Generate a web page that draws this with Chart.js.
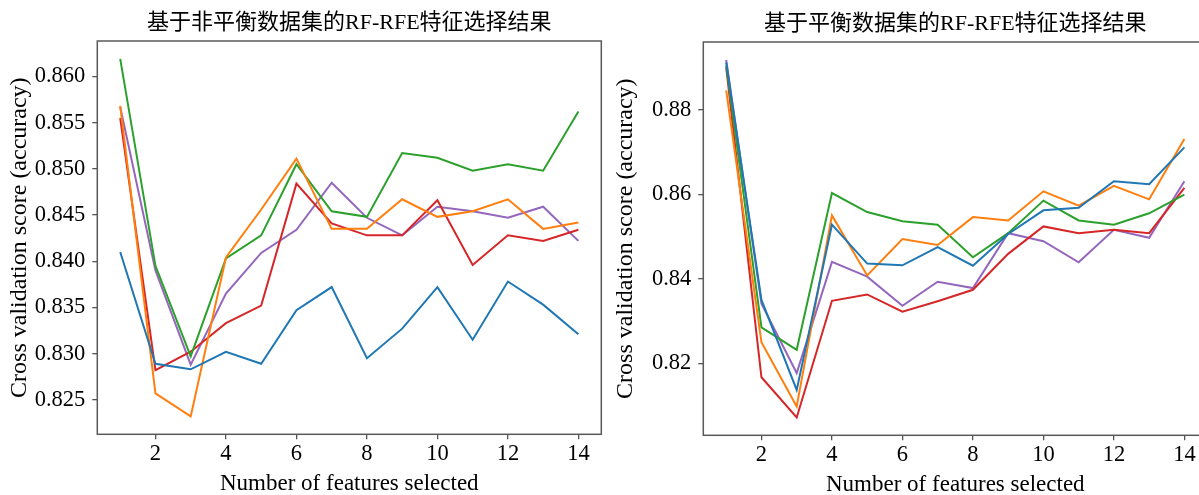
<!DOCTYPE html>
<html>
<head>
<meta charset="utf-8">
<script src="https://cdn.jsdelivr.net/npm/chart.js@4"></script>
<style>
  html, body { margin: 0; padding: 0; background: #fff; }
  body { width: 1199px; height: 495px; overflow: hidden; position: relative; }
  .panel { position: absolute; width: 620px; height: 495px; }
</style>
</head>
<body>
<div class="panel" style="left:0;top:0"><canvas id="imbalanced" width="620" height="495"></canvas></div>
<div class="panel" style="left:606px;top:1px"><canvas id="balanced" width="620" height="495"></canvas></div>
<script>
// Number of features kept by RFE at each step
const featureCounts = [1, 2, 3, 4, 5, 6, 7, 8, 9, 10, 11, 12, 13, 14];
const xTicks = [2, 4, 6, 8, 10, 12, 14];

// Cross-validation accuracy, imbalanced data set (one curve per CV run)
const imbBlue   = [0.8410, 0.8289, 0.8283, 0.8302, 0.8289, 0.8347, 0.8372, 0.8295, 0.8327, 0.8372, 0.8315, 0.8378, 0.8353, 0.8321];
const imbOrange = [0.8568, 0.8257, 0.8232, 0.8404, 0.8456, 0.8511, 0.8435, 0.8435, 0.8467, 0.8448, 0.8454, 0.8467, 0.8435, 0.8442];
const imbGreen  = [0.8619, 0.8395, 0.8297, 0.8403, 0.8428, 0.8505, 0.8454, 0.8448, 0.8517, 0.8512, 0.8498, 0.8505, 0.8498, 0.8562];
const imbRed    = [0.8555, 0.8282, 0.8302, 0.8333, 0.8352, 0.8484, 0.8441, 0.8428, 0.8428, 0.8466, 0.8396, 0.8428, 0.8422, 0.8434];
const imbPurple = [0.8567, 0.8390, 0.8288, 0.8365, 0.8409, 0.8434, 0.8485, 0.8447, 0.8428, 0.8459, 0.8454, 0.8447, 0.8459, 0.8422];

// Cross-validation accuracy, balanced data set
const balBlue   = [0.8912, 0.8350, 0.8137, 0.8528, 0.8436, 0.8432, 0.8475, 0.8431, 0.8506, 0.8562, 0.8568, 0.8631, 0.8624, 0.8711];
const balOrange = [0.8846, 0.8250, 0.8098, 0.8550, 0.8408, 0.8494, 0.8480, 0.8546, 0.8538, 0.8607, 0.8573, 0.8620, 0.8588, 0.8731];
const balGreen  = [0.8905, 0.8285, 0.8232, 0.8603, 0.8558, 0.8536, 0.8528, 0.8451, 0.8508, 0.8585, 0.8538, 0.8528, 0.8555, 0.8599];
const balRed    = [0.8900, 0.8167, 0.8072, 0.8348, 0.8363, 0.8322, 0.8347, 0.8374, 0.8459, 0.8524, 0.8508, 0.8516, 0.8508, 0.8615];
const balPurple = [0.8918, 0.8341, 0.8177, 0.8440, 0.8405, 0.8336, 0.8393, 0.8378, 0.8508, 0.8489, 0.8439, 0.8516, 0.8497, 0.8631];

// Y-axis ticks and their labels
const imbYTicks  = [0.825, 0.830, 0.835, 0.840, 0.845, 0.850, 0.855, 0.860];
const imbYLabels = ['0.825', '0.830', '0.835', '0.840', '0.845', '0.850', '0.855', '0.860'];
const balYTicks  = [0.82, 0.84, 0.86, 0.88];
const balYLabels = ['0.82', '0.84', '0.86', '0.88'];

const seriesColors = ['#1f77b4', '#ff7f0e', '#2ca02c', '#d62728', '#9467bd'];
const SERIF = "'Liberation Serif', 'Noto Sans CJK SC', serif";

// 5% padding around the data range on each axis
function paddedRange(values) {
  const lo = Math.min(...values), hi = Math.max(...values);
  const m = (hi - lo) * 0.05;
  return [lo - m, hi + m];
}

// Full box around the plotting area
const axesFrame = {
  id: 'axesFrame',
  afterDatasetsDraw(chart) {
    const { ctx, chartArea: a } = chart;
    ctx.save();
    ctx.strokeStyle = '#595959';
    ctx.lineWidth = 1.5;
    ctx.strokeRect(a.left, a.top, a.right - a.left, a.bottom - a.top);
    ctx.restore();
  }
};

function makeChart(canvasId, titleText, series, yTicks, yLabels) {
  const [xMin, xMax] = paddedRange(featureCounts);
  const [yMin, yMax] = paddedRange(series.flat());
  const tickGrid = { drawOnChartArea: false, drawTicks: true, tickLength: 5, tickColor: '#555', lineWidth: 1.3 };

  return new Chart(document.getElementById(canvasId), {
    type: 'line',
    data: {
      datasets: series.map((vals, i) => ({
        data: featureCounts.map((n, k) => ({ x: n, y: vals[k] })),
        borderColor: seriesColors[i],
        borderWidth: 2,
        pointRadius: 0,
        fill: false,
        tension: 0
      }))
    },
    options: {
      responsive: false,
      maintainAspectRatio: false,
      animation: false,
      events: [],
      layout: { padding: { left: 0, right: 18.7, top: 0, bottom: 0 } },
      plugins: {
        legend: { display: false },
        tooltip: { enabled: false },
        title: {
          display: true,
          text: titleText,
          fullSize: false,
          color: '#000',
          font: { family: SERIF, size: 22, weight: 'normal', lineHeight: 1 },
          padding: { top: 12, bottom: 7 }
        }
      },
      scales: {
        x: {
          type: 'linear',
          min: xMin,
          max: xMax,
          afterBuildTicks(s) { s.ticks = xTicks.map(v => ({ value: v })); },
          afterFit(s) { s.height = 60.7; },
          border: { display: false },
          grid: tickGrid,
          ticks: {
            color: '#000',
            font: { family: SERIF, size: 22.5 },
            padding: 1,
            maxRotation: 0,
            autoSkip: false,
            callback: v => String(v)
          },
          title: {
            display: true,
            text: 'Number of features selected',
            color: '#000',
            font: { family: SERIF, size: 23, lineHeight: 1 },
            padding: { top: 0, bottom: -0.5 }
          }
        },
        y: {
          type: 'linear',
          min: yMin,
          max: yMax,
          afterBuildTicks(s) { s.ticks = yTicks.map(v => ({ value: v })); },
          afterFit(s) { s.width = 97.3; },
          border: { display: false },
          grid: tickGrid,
          ticks: {
            color: '#000',
            font: { family: SERIF, size: 22.5 },
            padding: 7,
            autoSkip: false,
            callback: (v, idx) => yLabels[idx]
          },
          title: {
            display: true,
            text: 'Cross validation score (accuracy)',
            color: '#000',
            font: { family: SERIF, size: 24, lineHeight: 1 },
            padding: { top: 7.5, bottom: 0 }
          }
        }
      }
    },
    plugins: [axesFrame]
  });
}

makeChart('imbalanced', '基于非平衡数据集的RF-RFE特征选择结果',
  [imbBlue, imbOrange, imbGreen, imbRed, imbPurple], imbYTicks, imbYLabels);
makeChart('balanced', '基于平衡数据集的RF-RFE特征选择结果',
  [balBlue, balOrange, balGreen, balRed, balPurple], balYTicks, balYLabels);
</script>
</body>
</html>
